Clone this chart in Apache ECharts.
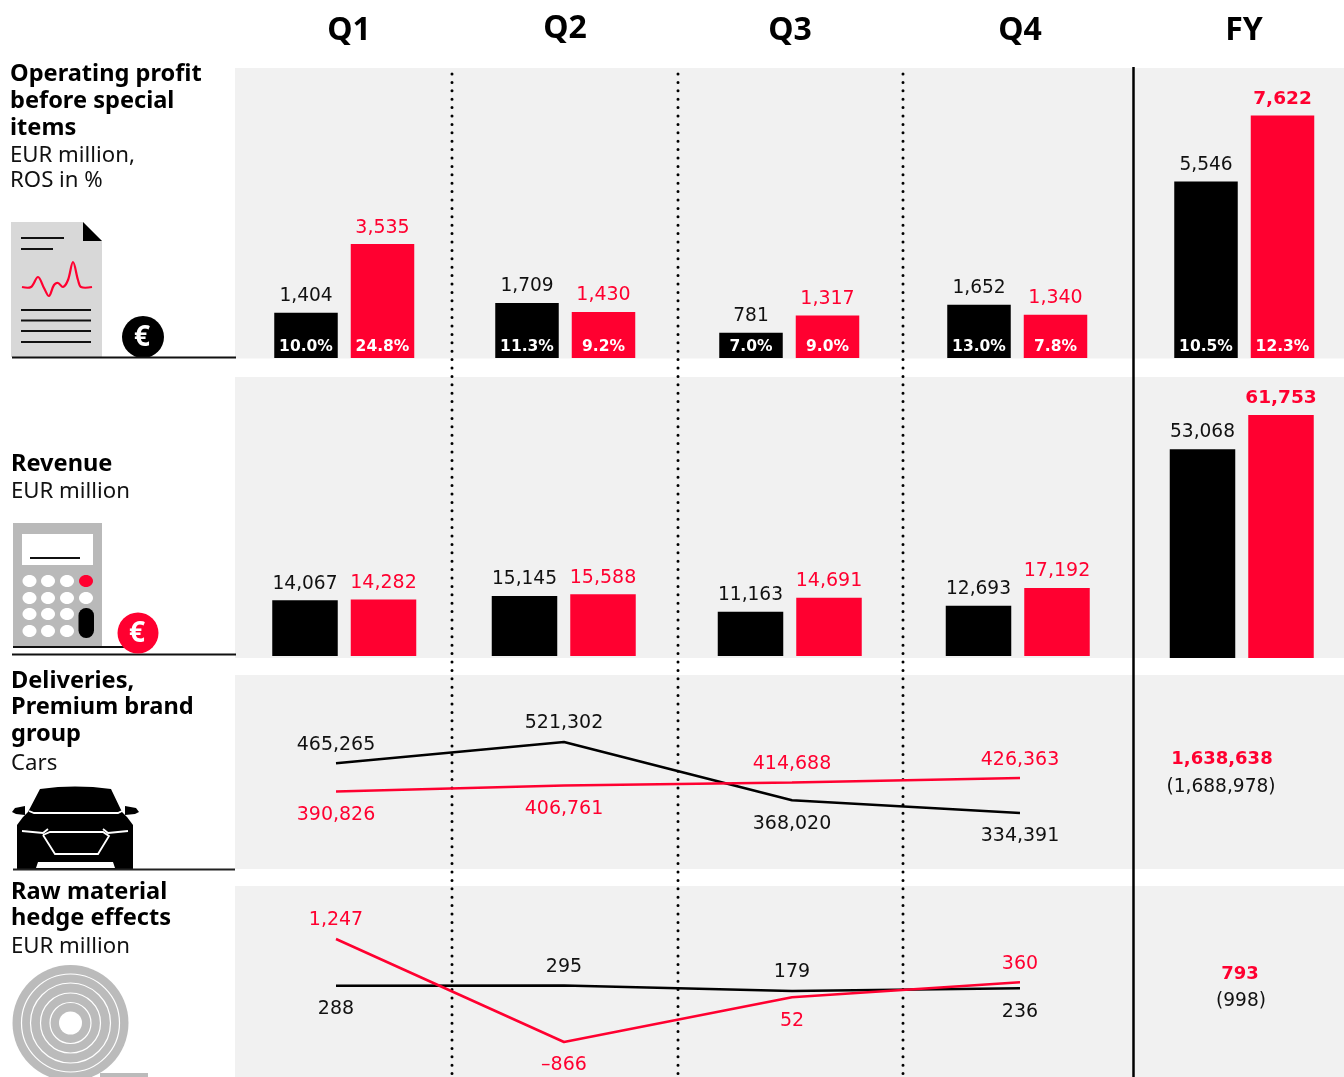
<!DOCTYPE html>
<html>
<head>
<meta charset="utf-8">
<title>Quarterly figures</title>
<script src="https://cdn.jsdelivr.net/npm/echarts@6/dist/echarts.min.js"></script>
<style>
  html, body { margin: 0; padding: 0; background: #fff; }
  #chart { width: 1344px; height: 1077px; }
</style>
</head>
<body>
<div id="chart"></div>
<script>
// Chart data
const periods = ['Q1', 'Q2', 'Q3', 'Q4', 'FY'];
const quarters = ['Q1', 'Q2', 'Q3', 'Q4'];

const profitPrev = [1404, 1709, 781, 1652, 5546];
const profitCur = [3535, 1430, 1317, 1340, 7622];
const rosPrev = ['10.0%', '11.3%', '7.0%', '13.0%', '10.5%'];
const rosCur = ['24.8%', '9.2%', '9.0%', '7.8%', '12.3%'];

const revenuePrev = [14067, 15145, 11163, 12693, 53068];
const revenueCur = [14282, 15588, 14691, 17192, 61753];

const deliveriesPrev = [465265, 521302, 368020, 334391];
const deliveriesCur = [390826, 406761, 414688, 426363];
const deliveriesFyCur = '1,638,638';
const deliveriesFyPrev = '(1,688,978)';

const hedgePrev = [288, 295, 179, 236];
const hedgeCur = [1247, -866, 52, 360];
const hedgeFyCur = '793';
const hedgeFyPrev = '(998)';

// Layout / colours
const RED = '#ff0030';
const BLACK = '#000000';
const TEXT = '#111111';
const BAND = '#f1f1f1';
const NUM_FONT = '"DejaVu Sans"';
const HEAD_FONT = '"Noto Sans"';

// centre of the first bar in each period, per row
const profitCentres = [306, 527, 751, 979, 1206];
const revenueCentres = [305, 524.5, 750.5, 978.5, 1202.5];

const fmt = v => v.toLocaleString('en-US').replace('-', '\u2013');

const grids = [], xAxes = [], yAxes = [], series = [];

function addAxes(grid, xAxis, yAxis) {
  grids.push(Object.assign({ containLabel: false, show: false }, grid));
  const idx = grids.length - 1;
  xAxes.push(Object.assign({ gridIndex: idx, show: false }, xAxis));
  yAxes.push(Object.assign({ gridIndex: idx, type: 'value', show: false }, yAxis));
  return idx;
}

// one small grid for each pair of bars
function addBars(prev, cur, i, opts) {
  const fy = i === 4;
  const idx = addAxes(
    { left: opts.centre - opts.gap / 2, width: opts.gap * 2, top: opts.top, height: fy ? opts.fyHeight : opts.height },
    { type: 'category', data: ['prev', 'cur'] },
    { min: 0, max: fy ? opts.fyMax : opts.max }
  );
  series.push({
    type: 'bar',
    xAxisIndex: idx,
    yAxisIndex: idx,
    barWidth: opts.barWidth,
    barGap: '-100%',
    data: [
      { value: prev[i], itemStyle: { color: BLACK }, label: { color: TEXT } },
      { value: cur[i], itemStyle: { color: RED }, label: { color: RED, fontWeight: fy ? 'bold' : 'normal', fontSize: fy ? 18.5 : 19 } }
    ],
    label: {
      show: true,
      position: 'top',
      distance: 7,
      fontFamily: NUM_FONT,
      fontSize: 18.6,
      formatter: p => fmt(p.value)
    }
  });
  if (opts.pctPrev) {
    series.push({
      type: 'bar',
      xAxisIndex: idx,
      yAxisIndex: idx,
      barWidth: opts.barWidth,
      barGap: '-100%',
      itemStyle: { color: 'transparent' },
      data: [prev[i], cur[i]],
      label: {
        show: true,
        position: 'insideBottom',
        distance: 3,
        color: '#fff',
        fontFamily: NUM_FONT,
        fontWeight: 'bold',
        fontSize: 15.5,
        formatter: p => (p.dataIndex === 0 ? opts.pctPrev[i] : opts.pctCur[i])
      }
    });
  }
}

periods.forEach((p, i) => {
  addBars(profitPrev, profitCur, i, {
    centre: profitCentres[i], gap: 76.5, top: 68, height: 290, fyHeight: 290,
    max: 9000, fyMax: 9115, barWidth: 63.5, pctPrev: rosPrev, pctCur: rosCur
  });
  addBars(revenuePrev, revenueCur, i, {
    centre: revenueCentres[i], gap: 78.5, top: 377, height: 279, fyHeight: 281,
    max: 70500, fyMax: 71400, barWidth: 65.5
  });
});

// line rows
function addLines(top, height, min, max, prev, cur, prevPos, curPos) {
  const idx = addAxes(
    { left: 336, width: 684, top: top, height: height },
    { type: 'category', data: quarters, boundaryGap: false },
    { min: min, max: max }
  );
  [[prev, prevPos, BLACK, TEXT], [cur, curPos, RED, RED]].forEach(([values, pos, color, textColor]) => {
    series.push({
      type: 'line',
      xAxisIndex: idx,
      yAxisIndex: idx,
      symbol: 'circle',
      symbolSize: 0,
      lineStyle: { color: color, width: 2.5 },
      itemStyle: { color: color },
      data: values.map((v, k) => ({
        value: v,
        label: { position: pos[k], distance: pos[k] === 'top' ? 9 : 14 }
      })),
      label: {
        show: true,
        color: textColor,
        fontFamily: NUM_FONT,
        fontSize: 19,
        formatter: p => fmt(p.value)
      }
    });
  });
}

addLines(675, 194, 187000, 697700, deliveriesPrev, deliveriesCur,
  ['top', 'top', 'bottom', 'bottom'], ['bottom', 'bottom', 'top', 'top']);
addLines(886, 191, -1584, 2334, hedgePrev, hedgeCur,
  ['bottom', 'top', 'top', 'bottom'], ['top', 'bottom', 'bottom', 'top']);

// Everything that is not a data mark
const rect = (x, y, w, h, fill, r) => ({ type: 'rect', z: 0, shape: { x, y, width: w, height: h, r: r || 0 }, style: { fill } });
const line = (x1, y1, x2, y2, stroke, w, extra) => ({
  type: 'line', z: 1, shape: { x1, y1, x2, y2 }, style: Object.assign({ stroke, lineWidth: w }, extra || {})
});
const text = (x, y, t, size, weight, fill, align, font) => ({
  type: 'text', z: 3,
  style: { x, y, text: t, fontSize: size, fontWeight: weight, fill, textAlign: align || 'left', textVerticalAlign: 'middle', fontFamily: font || HEAD_FONT }
});
const poly = (points, fill) => ({ type: 'polygon', z: 3, shape: { points }, style: { fill } });
const pline = (points, stroke, w, smooth) => ({ type: 'polyline', z: 3, shape: { points, smooth: smooth || 0 }, style: { stroke, lineWidth: w, fill: null } });
const circle = (cx, cy, r, fill, stroke, w) => ({ type: 'circle', z: 3, shape: { cx, cy, r }, style: { fill: fill, stroke: stroke || null, lineWidth: w || 0 } });
const ellipse = (cx, cy, rx, ry, fill) => ({ type: 'ellipse', z: 3, shape: { cx, cy, rx, ry }, style: { fill } });
const raised = el => Object.assign(el, { z: 3 });

const elements = [];

// bands
[[68, 290.5], [377, 281], [675, 194], [886, 191]].forEach(([y, h]) => elements.push(rect(235, y, 1109, h, BAND)));

// dotted separators and FY rule
[452, 678, 903].forEach(x => elements.push(line(x, 74, x, 1077, '#000', 3, { lineDash: [0, 8.4], lineCap: 'round' })));
elements.push(line(1133.5, 67, 1133.5, 1077, '#000', 2.5));

// column heads
[[349, 31], [565, 29], [790, 31], [1020, 31], [1244, 31]].forEach(([x, y], i) =>
  elements.push(text(x, y, periods[i], 32, 'bold', '#000', 'center')));

// row heads
[
  [10, 74, 'Operating profit', 1], [10, 101, 'before special', 1], [10, 128, 'items', 1],
  [10, 156, 'EUR million,', 0], [10, 181, 'ROS in %', 0],
  [11, 464, 'Revenue', 1], [11, 492, 'EUR million', 0],
  [11, 681, 'Deliveries,', 1], [11, 707, 'Premium brand', 1], [11, 734, 'group', 1], [11, 764, 'Cars', 0],
  [11, 892, 'Raw material', 1], [11, 918, 'hedge effects', 1], [11, 947, 'EUR million', 0]
].forEach(([x, y, t, b]) => elements.push(b ? text(x, y, t, 23.6, 'bold', '#000') : text(x, y, t, 22.2, 'normal', '#111')));

// FY text in the line rows
elements.push(text(1222, 759, deliveriesFyCur, 18, 'bold', RED, 'center', NUM_FONT));
elements.push(text(1221, 787, deliveriesFyPrev, 18.6, 'normal', TEXT, 'center', NUM_FONT));
elements.push(text(1240, 974, hedgeFyCur, 18, 'bold', RED, 'center', NUM_FONT));
elements.push(text(1241, 1001, hedgeFyPrev, 18.6, 'normal', TEXT, 'center', NUM_FONT));

// document icon
elements.push(poly([[11, 222], [83, 222], [102, 241], [102, 357], [11, 357]], '#d8d8d8'));
elements.push(poly([[83, 222], [102, 241], [83, 241]], '#000'));
[[21, 64, 238], [21, 53, 249], [21, 91, 310], [21, 91, 320.5], [21, 91, 331], [21, 91, 342]].forEach(([a, b, y]) => {
  elements.push(raised(line(a, y, b, y, '#111', 2)));
});
elements.push(pline([[22, 287], [31, 287], [38, 277], [44, 288], [49, 296], [54, 285], [58, 283], [63, 287], [68, 280], [73, 262], [78, 280], [81, 287], [92, 287]], RED, 2.2, 0.35));
elements.push(circle(143, 337, 21, '#000'));
elements.push(text(142, 338, '\u20ac', 28, 'bold', '#fff', 'center'));
elements.push(raised(line(12, 357.5, 236, 357.5, '#111', 2)));

// calculator icon
elements.push(raised(rect(13, 523, 89, 124, '#b9b9b9')));
elements.push(raised(rect(22, 534, 71, 31, '#fff')));
elements.push(raised(line(30, 558, 80, 558, '#111', 2)));
[581, 598, 614, 631].forEach((y, r) => [29.5, 48, 67, 86].forEach((x, c) => {
  if (c === 3 && r > 1) return;
  elements.push(ellipse(x, y, 7, 6, c === 3 && r === 0 ? RED : '#fff'));
}));
elements.push(raised(rect(78.5, 608, 15.5, 30, '#000', 7.5)));
elements.push(raised(line(13, 647, 125, 647, '#111', 2)));
elements.push(raised(line(12, 654.5, 236, 654.5, '#111', 2)));
elements.push(circle(138, 633, 20.5, RED));
elements.push(text(137, 634, '\u20ac', 28, 'bold', '#fff', 'center'));

// car icon
elements.push(poly([[40, 789], [58, 787], [75, 786.5], [93, 787], [111, 789], [122, 812], [127, 817], [133, 825], [133, 869], [17, 869], [17, 825], [23, 817], [28, 812]], '#000'));
elements.push(poly([[25, 806], [15, 808], [12, 812], [16, 814], [25, 815]], '#000'));
elements.push(poly([[125, 806], [136, 808], [139, 812], [135, 814], [125, 815]], '#000'));
elements.push(pline([[29, 811], [34, 813], [118, 813], [122, 811]], '#fff', 1.8));
elements.push(pline([[22, 831], [43, 833], [48, 829]], '#fff', 1.8));
elements.push(pline([[128, 831], [108, 833], [103, 829]], '#fff', 1.8));
elements.push(pline([[43, 835], [50, 832], [103, 832], [109, 836], [98, 854], [55, 854], [43, 835]], '#fff', 1.8));
elements.push(poly([[36, 868], [38, 862], [113, 862], [115, 868]], '#fff'));
elements.push(raised(line(13, 869.5, 235, 869.5, '#222', 2)));

// coil icon
elements.push(circle(70.5, 1023, 58, '#bbbbbb'));
[49, 40, 30, 20.5].forEach(r => elements.push(circle(70.5, 1023, r, null, '#fff', 1.2)));
elements.push(circle(70.5, 1023, 11.5, '#fff'));
elements.push(raised(rect(100, 1073, 48, 4, '#bbbbbb')));

const option = {
  animation: false,
  backgroundColor: '#fff',
  tooltip: { show: false },
  grid: grids,
  xAxis: xAxes,
  yAxis: yAxes,
  series: series,
  graphic: { elements: elements }
};

const myChart = echarts.init(document.getElementById('chart'), null, { renderer: 'canvas' });
myChart.setOption(option);
</script>
</body>
</html>
